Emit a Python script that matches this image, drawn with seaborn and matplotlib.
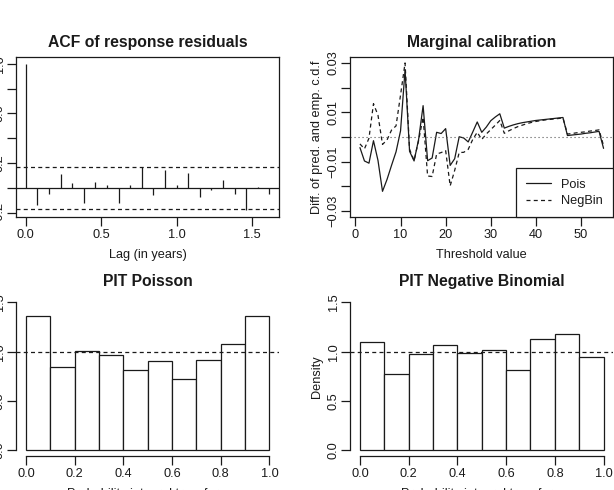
import numpy as np
import pandas as pd
import matplotlib
matplotlib.use("Agg")
import matplotlib.pyplot as plt
import seaborn as sns

# ---------------- data ----------------
acf_lag_index = list(range(22))
acf_frequency = 13
acf_values = [1.0, -0.139, -0.048, 0.115, 0.040, -0.125, 0.045, 0.021, -0.120, 0.019,
              0.168, -0.061, 0.141, 0.019, 0.123, -0.075, -0.019, 0.059, -0.048, -0.181,
              0.008, -0.053]
acf_ci = 0.168

thresholds = list(range(1, 56))
calib_pois = [-0.0043, -0.0097, -0.0106, -0.0015, -0.0095, -0.0220, -0.0172, -0.0115, -0.0060, 0.0025,
              0.0272, -0.0058, -0.0097, -0.0010, 0.0127, -0.0096, -0.0085, 0.0019, 0.0014, 0.0034,
              -0.0115, -0.0088, 0.0001, -0.0004, -0.0020, 0.0020, 0.0061, 0.0019, 0.0040, 0.0066,
              0.0081, 0.0094, 0.0036, 0.0043, 0.0049, 0.0054, 0.0058, 0.0061, 0.0064, 0.0067,
              0.0069, 0.0071, 0.0073, 0.0075, 0.0077, 0.0079, 0.0006, 0.0008, 0.0010, 0.0012,
              0.0015, 0.0017, 0.0020, 0.0023, -0.0046]
calib_negbin = [-0.0028, -0.0048, -0.0005, 0.0135, 0.0088, -0.0030, -0.0012, 0.0028, 0.0045, 0.0170,
                0.0300, -0.0050, -0.0095, -0.0015, 0.0080, -0.0158, -0.0160, -0.0069, -0.0063, -0.0055,
                -0.0198, -0.0135, -0.0063, -0.0062, -0.0050, -0.0010, 0.0019, -0.0010, 0.0012, 0.0030,
                0.0048, 0.0067, 0.0015, 0.0025, 0.0034, 0.0042, 0.0048, 0.0054, 0.0059, 0.0063,
                0.0066, 0.0069, 0.0071, 0.0073, 0.0075, 0.0077, 0.0012, 0.0014, 0.0017, 0.0019,
                0.0021, 0.0024, 0.0026, 0.0029, -0.0035]

pit_breaks = [0.0, 0.1, 0.2, 0.3, 0.4, 0.5, 0.6, 0.7, 0.8, 0.9, 1.0]
pit_pois = [1.363, 0.841, 1.003, 0.966, 0.817, 0.902, 0.719, 0.915, 1.075, 1.363]
pit_negbin = [1.095, 0.776, 0.976, 1.068, 0.986, 1.014, 0.810, 1.125, 1.176, 0.942]

# ---------------- style ----------------
sns.set_style("ticks")
plt.rcParams['font.family'] = ['Liberation Sans', 'DejaVu Sans']
FS = 9.2
TFS = 11.3
LW = 0.9
INK = '#1a1a1a'
plt.rcParams.update({
    'font.size': FS,
    'axes.linewidth': LW,
    'axes.edgecolor': INK,
    'xtick.color': INK, 'ytick.color': INK,
    'xtick.major.size': 6.5, 'ytick.major.size': 6.5,
    'xtick.major.width': LW, 'ytick.major.width': LW,
    'xtick.major.pad': 1.8, 'ytick.major.pad': 1.0,
    'xtick.labelsize': FS, 'ytick.labelsize': FS,
    'text.color': INK, 'axes.labelcolor': INK,
})

W, H = 614, 490
fig = plt.figure(figsize=(W / 100, H / 100), dpi=100)
fig.patch.set_facecolor('white')


def rect(l, t, r, b):
    return [l / W, 1 - b / H, (r - l) / W, (b - t) / H]


DASH = (3.2, 2.6)


def finish(ax, title, xlabel, ylabel, ylab_x, xlab_y=-37 / 160):
    ax.set_facecolor('white')
    ax.text(0.5, 1 + 14.7 / 160, title, transform=ax.transAxes, ha='center', va='center',
            fontsize=TFS, fontweight='bold')
    ax.set_xlabel(xlabel, va='center', fontsize=FS)
    ax.xaxis.set_label_coords(0.5, xlab_y)
    ax.set_ylabel(ylabel, va='center', fontsize=FS)
    ax.yaxis.set_label_coords(ylab_x, 0.5)
    for lab in ax.get_yticklabels():
        lab.set_rotation(90)
        lab.set_va('center')


# ---- ACF ----
ax1 = fig.add_axes(rect(16, 57, 279.2, 217.5))
lags = np.array(acf_lag_index) / acf_frequency
ax1.vlines(lags, 0, acf_values, color=INK, lw=LW)
ax1.axhline(0, color=INK, lw=LW)
for c in (acf_ci, -acf_ci):
    ax1.axhline(c, color=INK, lw=LW, dashes=DASH)
ax1.set_xlim(-0.0646, 1.68)
ax1.set_ylim(-0.24, 1.055)
ax1.set_xticks([0, 0.5, 1.0, 1.5], ['0.0', '0.5', '1.0', '1.5'])
ax1.set_yticks([-0.2, 0.0, 0.2, 0.4, 0.6, 0.8, 1.0], ['-0.2', '', '0.2', '', '0.6', '', '1.0'])
finish(ax1, 'ACF of response residuals', 'Lag (in years)', 'ACF', -33.5 / 263.2)

# ---- Marginal calibration ----
ax2 = fig.add_axes(rect(350.2, 57, 613.3, 217.5))
df = pd.DataFrame({'t': thresholds * 2,
                   'diff': calib_pois + calib_negbin,
                   'model': ['Pois'] * len(thresholds) + ['NegBin'] * len(thresholds)})
sns.lineplot(data=df[df.model == 'Pois'], x='t', y='diff', ax=ax2, color=INK, lw=LW, label='Pois')
sns.lineplot(data=df[df.model == 'NegBin'], x='t', y='diff', ax=ax2, color=INK, lw=LW, label='NegBin')
ax2.lines[1].set_dashes(DASH)
ax2.axhline(0, color='#555555', lw=0.8, dashes=(1.0, 2.6))
ax2.set_xlim(-1.16, 57.16)
ax2.set_ylim(-0.0326, 0.0324)
ax2.set_xticks([0, 10, 20, 30, 40, 50])
ax2.set_yticks([-0.03, -0.02, -0.01, 0.0, 0.01, 0.02, 0.03],
               ['\u22120.03', '', '\u22120.01', '', '0.01', '', '0.03'])
leg = ax2.legend(loc='lower right', borderaxespad=0, fancybox=False, framealpha=1,
                 edgecolor=INK, fontsize=FS, handlelength=1.95, handletextpad=0.8,
                 borderpad=0.8, labelspacing=0.36)
leg.get_frame().set_linewidth(LW)
finish(ax2, 'Marginal calibration', 'Threshold value', 'Diff. of pred. and emp. c.d.f', -33.5 / 263.1)

# ---- PIT histograms ----
centers = [(a + b) / 2 for a, b in zip(pit_breaks[:-1], pit_breaks[1:])]
for l, r, vals, title in [(16.3, 279.2, pit_pois, 'PIT Poisson'),
                          (350.2, 613.3, pit_negbin, 'PIT Negative Binomial')]:
    ax = fig.add_axes(rect(l, 296.4, r, 456.2))
    sns.histplot(x=centers, weights=vals, bins=pit_breaks, stat='count', ax=ax,
                 color='white', edgecolor=INK, linewidth=LW, alpha=1)
    ax.axhline(1, color=INK, lw=LW, dashes=DASH)
    ax.set_xlim(-0.04, 1.04)
    ax.set_ylim(-0.06, 1.56)
    ax.set_xticks([0, 0.2, 0.4, 0.6, 0.8, 1.0], ['0.0', '0.2', '0.4', '0.6', '0.8', '1.0'])
    ax.set_yticks([0, 0.5, 1.0, 1.5], ['0.0', '0.5', '1.0', '1.5'])
    ax.spines['top'].set_visible(False)
    ax.spines['right'].set_visible(False)
    ax.spines['left'].set_bounds(0, 1.5)
    ax.spines['bottom'].set_bounds(0, 1.0)
    finish(ax, title, 'Probability integral transform', 'Density', -33.5 / (r - l), -38.2 / 159.8)

fig.savefig('out.png', dpi=100)
